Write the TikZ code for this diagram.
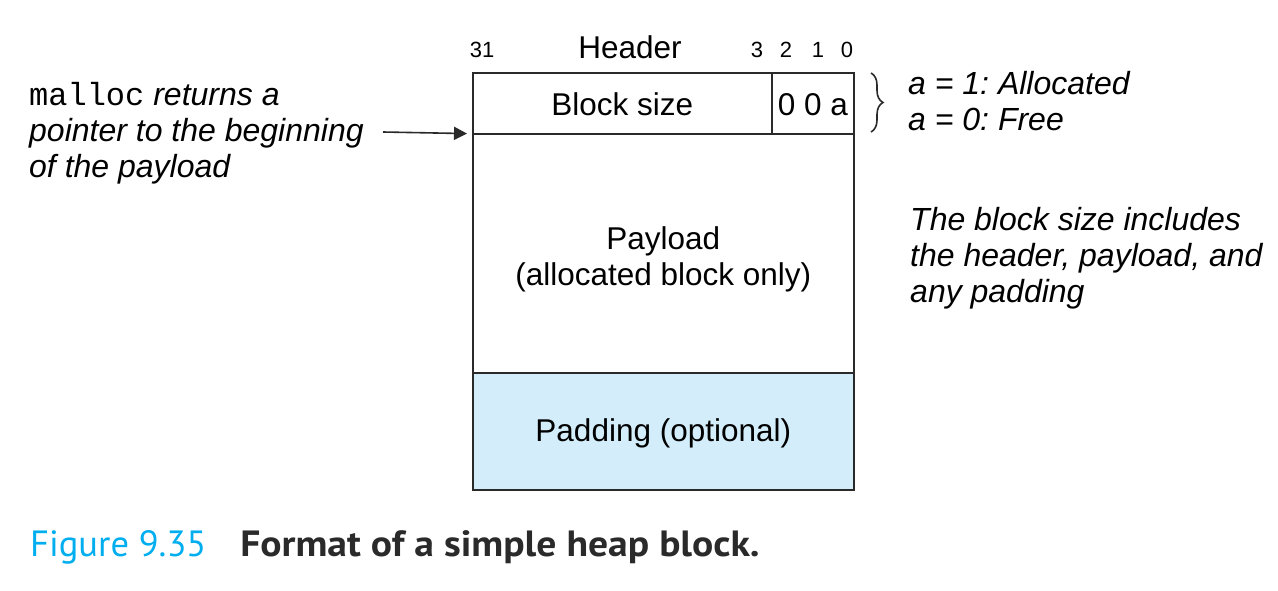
\documentclass[tikz,border=0pt]{standalone}
\usepackage{fontspec}
\setmainfont{Liberation Sans}
\setmonofont{Liberation Mono}
\newfontfamily\capfont{PT Sans}[BoldFeatures={FakeStretch=1.085}]
\usetikzlibrary{arrows.meta,decorations.pathreplacing}
\definecolor{figcyan}{HTML}{00AEEF}
\definecolor{padblue}{HTML}{D3EEFA}
\definecolor{linegray}{HTML}{2A2A2A}
\frenchspacing
\tikzset{
  cell/.style={draw=linegray, line width=1.6pt, anchor=north west, inner sep=0pt,
    font=\fontsize{31.5}{36}\selectfont, align=center},
  bitlbl/.style={anchor=base, inner sep=0pt, font=\fontsize{22}{24}\selectfont},
  note/.style={anchor=west, inner sep=0pt, align=left,
    font=\fontsize{32}{36}\selectfont\itshape},
  ptrarrow/.style={draw=linegray, line width=1.6pt, -{Triangle[length=13pt,width=13pt]}},
  bracestyle/.style={draw=linegray, line width=1.6pt, decorate,
    decoration={brace, amplitude=12pt}}
}
\begin{document}
\begin{tikzpicture}[x=1pt,y=-1pt]
\useasboundingbox (0,0) rectangle (1278,591);
% header labels
\node[bitlbl, font=\fontsize{31.5}{36}\selectfont] (hdr) at (630,59) {Header};
\node[bitlbl] (b31) at (482,58) {31};
\node[bitlbl] (b3) at (757,58) {3};
\node[bitlbl] (b2) at (786,58) {2};
\node[bitlbl] (b1) at (818,58) {1};
\node[bitlbl] (b0) at (847,58) {0};
% block cells
\node[cell, minimum width=299pt, minimum height=61pt] (size) at (472,72) {\rule{0pt}{25pt}Block size};
\node[cell, minimum width=82pt, minimum height=61pt] (bits) at (771,72) {\rule{0pt}{25pt}0 0 a};
\node[cell, minimum width=381pt, minimum height=239pt] (payload) at (472,133)
  {\rule{0pt}{34pt}Payload\\(allocated block only)};
\node[cell, fill=padblue, minimum width=381pt, minimum height=117pt] (padding) at (472,372) {\rule{0pt}{27pt}Padding (optional)};
% left note and arrow
\node[note] (ptrtext) at (29,133) {{\upshape\ttfamily malloc} returns a\\pointer to the beginning\\of the payload};
\coordinate (ptrstart) at (383,132);
\draw[ptrarrow] (ptrstart) -- ([xshift=-5pt,yshift=1pt]size.south west);
% brace and allocated note
\coordinate (bt) at (871,73);
\coordinate (bb) at (871,132);
\draw[bracestyle] (bt) -- (bb);
\node[note] (anote) at (908,101) {a = 1: Allocated\\a = 0: Free};
% size note
\node[note] (snote) at (910,258) {The block size includes\\the header, payload, and\\any padding};
% caption
\node[anchor=base west, inner sep=0pt, font=\capfont\fontsize{36.5}{40}\selectfont] (cap) at (30,556)
  {\textcolor{figcyan}{Figure 9.35}\hspace{34pt}\textcolor{linegray}{\bfseries Format of a simple heap block.}};
\end{tikzpicture}
\end{document}
